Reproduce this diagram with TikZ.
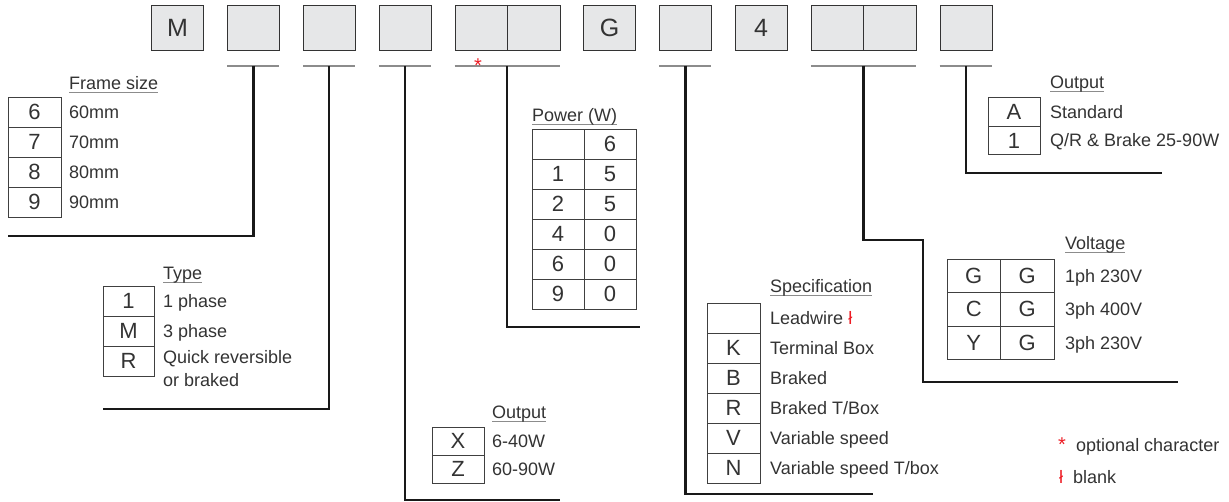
\documentclass[tikz,border=0pt]{standalone}
\usepackage{fontspec}
\setmainfont{Liberation Sans}
\usetikzlibrary{positioning}
\definecolor{boxgray}{HTML}{E6E7E8}
\definecolor{inkgray}{HTML}{333333}
\definecolor{rulegray}{HTML}{8C8C8C}
\definecolor{markred}{HTML}{ED1C24}
\newcommand{\ttl}[1]{\setbox0\hbox{#1}\rlap{\textcolor{rulegray}{\rule[-3pt]{\wd0}{0.9pt}}}\box0}

\begin{document}
\begin{tikzpicture}[x=1pt,y=-1pt,
	topbox/.style={draw=black!80,fill=boxgray,minimum width=52pt,minimum height=45pt,inner sep=0pt,outer sep=0pt,font=\fontsize{25}{25}\selectfont,text=inkgray},
	cell/.style={draw=black!75,line width=0.8pt,minimum width=53pt,minimum height=30pt,inner sep=0pt,outer sep=0pt,font=\fontsize{22}{22}\selectfont,text=inkgray},
	lbl/.style={anchor=west,inner sep=0pt,text height=13pt,text depth=0pt,font=\fontsize{18}{21}\selectfont,text=inkgray},
	lead/.style={line width=2.4pt,black!90},
	tick/.style={line width=1.4pt,rulegray}]
\useasboundingbox (0,0) rectangle (1229,502);

	% code boxes
	\node[topbox] (m) at (177.5,27.5) {M};
	\node[topbox, right=23.8pt of m] (b2) {};
	\node[topbox, right=23.8pt of b2] (b3) {};
	\node[topbox, right=23.8pt of b3] (b4) {};
	\node[topbox, minimum width=52.5pt, right=23.8pt of b4] (d1a) {};
	\node[topbox, minimum width=52.5pt, right=0pt of d1a] (d1b) {};
	\node[topbox, right=23.8pt of d1b] (g) {G};
	\node[topbox, right=23.8pt of g] (b7) {};
	\node[topbox, right=23.8pt of b7] (four) {4};
	\node[topbox, minimum width=52.5pt, right=23.8pt of four] (d2a) {};
	\node[topbox, minimum width=52.5pt, right=0pt of d2a] (d2b) {};
	\node[topbox, right=23.8pt of d2b] (last) {};

	\coordinate (u2) at ([yshift=-16pt]b2.south);
	\coordinate (u3) at ([yshift=-16pt]b3.south);
	\coordinate (u4) at ([yshift=-16pt]b4.south);
	\coordinate (u5) at ([yshift=-16pt]d1a.south east);
	\coordinate (u7) at ([yshift=-16pt]b7.south);
	\coordinate (u9) at ([yshift=-16pt]d2a.south east);
	\coordinate (u10) at ([yshift=-16pt]last.south);

	\draw[tick] (u2 -| b2.west) -- (u2 -| b2.east);
	\draw[tick] (u3 -| b3.west) -- (u3 -| b3.east);
	\draw[tick] (u4 -| b4.west) -- (u4 -| b4.east);
	\draw[tick] (u5 -| d1a.west) -- (u5 -| d1b.east);
	\draw[tick] (u7 -| b7.west) -- (u7 -| b7.east);
	\draw[tick] (u9 -| d2a.west) -- (u9 -| d2b.east);
	\draw[tick] (u10 -| last.west) -- (u10 -| last.east);
	\node[text=markred, anchor=base, inner sep=0pt, font=\fontsize{20}{20}\selectfont] (opt) at (478,72.5) {*};

	% leaders
	\coordinate (fsend) at (8,236);
	\coordinate (tyend) at (103,409);
	\coordinate (ouend) at (560,500);
	\coordinate (pwend) at (640,327);
	\coordinate (spend) at (873,494);
	\coordinate (vobend) at (923,240);
	\coordinate (voend) at (1178,382);
	\coordinate (oaend) at (1162,173);
	\draw[lead] (u2) |- (fsend);
	\draw[lead] (u3) |- (tyend);
	\draw[lead] (u4) |- (ouend);
	\draw[lead] (u5) |- (pwend);
	\draw[lead] (u7) |- (spend);
	\draw[lead] (u9) |- (vobend) |- (voend);
	\draw[lead] (u10) |- (oaend);

	% frame size
	\node[lbl] (fst) at (69,83) {\ttl{Frame size}};
	\node[cell] (fs6) at (34.5,112) {6};
	\node[cell, below=0pt of fs6] (fs7) {7};
	\node[cell, below=0pt of fs7] (fs8) {8};
	\node[cell, below=0pt of fs8] (fs9) {9};
	\node[lbl, right=8pt of fs6] (fs6l) {60mm};
	\node[lbl, right=8pt of fs7] (fs7l) {70mm};
	\node[lbl, right=8pt of fs8] (fs8l) {80mm};
	\node[lbl, right=8pt of fs9] (fs9l) {90mm};

	% type
	\node[lbl] (tyt) at (163,273) {\ttl{Type}};
	\node[cell, minimum width=51pt] (ty1) at (128.5,301) {1};
	\node[cell, minimum width=51pt, below=0pt of ty1] (tym) {M};
	\node[cell, minimum width=51pt, below=0pt of tym] (tyr) {R};
	\node[lbl, right=9pt of ty1] (ty1l) {1 phase};
	\node[lbl, right=9pt of tym] (tyml) {3 phase};
	\node[lbl, right=9pt of tyr, yshift=4pt] (tyrl) {Quick reversible};
	\node[lbl, below=10pt of tyrl.south west, anchor=north west] (tyrm) {or braked};

	% power
	\node[lbl] (pwt) at (532,115) {\ttl{Power (W)}};
	\node[cell, minimum width=52pt] (pw1a) at (558,144) {};
	\node[cell, minimum width=52pt, right=0pt of pw1a] (pw1b) {6};
	\node[cell, minimum width=52pt, below=0pt of pw1a] (pw2a) {1};
	\node[cell, minimum width=52pt, right=0pt of pw2a] (pw2b) {5};
	\node[cell, minimum width=52pt, below=0pt of pw2a] (pw3a) {2};
	\node[cell, minimum width=52pt, right=0pt of pw3a] (pw3b) {5};
	\node[cell, minimum width=52pt, below=0pt of pw3a] (pw4a) {4};
	\node[cell, minimum width=52pt, right=0pt of pw4a] (pw4b) {0};
	\node[cell, minimum width=52pt, below=0pt of pw4a] (pw5a) {6};
	\node[cell, minimum width=52pt, right=0pt of pw5a] (pw5b) {0};
	\node[cell, minimum width=52pt, below=0pt of pw5a] (pw6a) {9};
	\node[cell, minimum width=52pt, right=0pt of pw6a] (pw6b) {0};

	% output (low)
	\node[lbl] (out) at (492,412) {\ttl{Output}};
	\node[cell, minimum width=52pt, minimum height=28pt] (oux) at (458,441) {X};
	\node[cell, minimum width=52pt, minimum height=28pt, below=0pt of oux] (ouz) {Z};
	\node[lbl, right=8pt of oux] (ouxl) {6-40W};
	\node[lbl, right=8pt of ouz] (ouzl) {60-90W};

	% specification
	\node[lbl] (spt) at (770,286) {\ttl{Specification}};
	\node[cell] (sp0) at (733.5,318) {};
	\node[cell, below=0pt of sp0] (spk) {K};
	\node[cell, below=0pt of spk] (spb) {B};
	\node[cell, below=0pt of spb] (spr) {R};
	\node[cell, below=0pt of spr] (spv) {V};
	\node[cell, below=0pt of spv] (spn) {N};
	\node[lbl, right=10pt of sp0] (sp0l) {Leadwire \textcolor{markred}{ł}};
	\node[lbl, right=10pt of spk] (spkl) {Terminal Box};
	\node[lbl, right=10pt of spb] (spbl) {Braked};
	\node[lbl, right=10pt of spr] (sprl) {Braked T/Box};
	\node[lbl, right=10pt of spv] (spvl) {Variable speed};
	\node[lbl, right=10pt of spn] (spnl) {Variable speed T/box};

	% voltage
	\node[lbl] (vot) at (1065,243) {\ttl{Voltage}};
	\node[cell, minimum width=53.5pt, minimum height=33.3pt] (vo1a) at (973.75,276) {G};
	\node[cell, minimum width=53.5pt, minimum height=33.3pt, right=0pt of vo1a] (vo1b) {G};
	\node[cell, minimum width=53.5pt, minimum height=33.3pt, below=0pt of vo1a] (vo2a) {C};
	\node[cell, minimum width=53.5pt, minimum height=33.3pt, right=0pt of vo2a] (vo2b) {G};
	\node[cell, minimum width=53.5pt, minimum height=33.3pt, below=0pt of vo2a] (vo3a) {Y};
	\node[cell, minimum width=53.5pt, minimum height=33.3pt, right=0pt of vo3a] (vo3b) {G};
	\node[lbl, right=11pt of vo1b] (vo1l) {1ph 230V};
	\node[lbl, right=11pt of vo2b] (vo2l) {3ph 400V};
	\node[lbl, right=11pt of vo3b] (vo3l) {3ph 230V};

	% output (high)
	\node[lbl] (oat) at (1050,82) {\ttl{Output}};
	\node[cell, minimum width=52pt, minimum height=28.5pt] (oaa) at (1014,112) {A};
	\node[cell, minimum width=52pt, minimum height=28.5pt, below=0pt of oaa] (oa1) {1};
	\node[lbl, right=10pt of oaa] (oaal) {Standard};
	\node[lbl, right=10pt of oa1] (oa1l) {Q/R \& Brake 25-90W};

	% key
	\node[text=markred, anchor=base, inner sep=0pt, font=\fontsize{20}{20}\selectfont] (keyst) at (1062,451) {*};
	\node[anchor=base west, inner sep=0pt, font=\fontsize{18}{21}\selectfont, text=inkgray] (keyopt) at (1076,451) {optional character};
	\node[text=markred, anchor=base, inner sep=0pt, font=\fontsize{18}{21}\selectfont] (keybl) at (1061,483) {ł};
	\node[anchor=base west, inner sep=0pt, font=\fontsize{18}{21}\selectfont, text=inkgray] (keyblt) at (1073,483) {blank};

\end{tikzpicture}
\end{document}
